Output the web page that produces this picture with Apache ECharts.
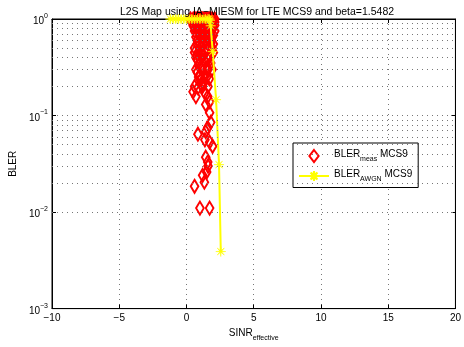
<!DOCTYPE html>
<html><head><meta charset="utf-8">
<script src="https://cdn.jsdelivr.net/npm/echarts@6/dist/echarts.min.js"></script>
<style>html,body{margin:0;padding:0;background:#fff}#c{width:464px;height:347px}</style>
</head><body><div id="c"></div>
<script>
var titleText = 'L2S Map using IA\u2212MIESM for LTE MCS9 and beta=1.5482';
var xTicks = [-10, -5, 0, 5, 10, 15, 20];
var yTicks = [0.001, 0.01, 0.1, 1];
var minorGrid = [0.002,0.003,0.004,0.005,0.006,0.007,0.008,0.009,
                 0.02,0.03,0.04,0.05,0.06,0.07,0.08,0.09,
                 0.2,0.3,0.4,0.5,0.6,0.7,0.8,0.9];
var sinrMeas = [0.7,0.9,1.1,1.3,1.5,1.7,1.9,2.0,0.8,1.2,1.6,1.0,1.4,1.8,2.1,0.7,1.2,1.5,1.9,0.9,1.7,1.3,2.0,1.0,1.6,0.8,1.4,1.8,1.1,0.6,1.9,1.5,0.9,1.2,1.7,0.7,1.0,1.4,1.8,0.9,1.2,1.6,0.8,1.0,1.4,1.1,1.7,1.3,
  1.07,0.85,0.49,1.36,0.7,1.58,1.72,1.43,1.72,1.8,1.58,1.43,0.85,1.37,1.72,1.94,1.43,1.58,1.6,1.5,1.2,1.33,0.6,1.0,1.72,
  0.3,0.5,0.6,0.8,1.0,1.2,1.4,1.6,1.8,2.1,0.4,0.6,1.9,2.1,0.5,1.0,1.3,1.7,0.6,1.1,1.4,2.1,0.7,1.2,1.5,1.9,0.8,1.0,1.6,2.0,0.6,1.1,1.4,2.0,0.8,1.3,1.6,0.7,1.1,1.5,1.9,0.9,1.5,0.6,1.2,1.6];
var blerMeas = [1,1,1,1,1,1,1,0.97,0.95,0.95,0.93,0.9,0.9,0.88,0.86,0.84,0.82,0.8,0.78,0.75,0.72,0.7,0.68,0.65,0.63,0.6,0.58,0.56,0.53,0.5,0.5,0.48,0.46,0.44,0.42,0.4,0.38,0.36,0.35,0.33,0.32,0.3,0.28,0.265,0.26,0.24,0.24,0.22,
  0.21,0.194,0.176,0.172,0.157,0.157,0.139,0.13,0.107,0.085,0.075,0.068,0.064,0.056,0.053,0.048,0.037,0.033,0.03,0.026,0.024,0.0204,0.0185,0.011,0.011,
  1,1,1,1,1,1,1,1,1,1,0.93,0.93,0.93,0.93,0.85,0.85,0.85,0.85,0.75,0.75,0.75,0.75,0.65,0.65,0.65,0.65,0.55,0.55,0.55,0.55,0.45,0.45,0.45,0.45,0.38,0.38,0.38,0.3,0.3,0.3,0.3,0.25,0.25,0.2,0.2,0.2];
var sinrAwgn = [-1.2,-1.0,-0.8,-0.6,-0.4,-0.2,0,0.2,0.4,0.6,0.8,1.0,1.2,1.4,1.6,1.7,1.75,1.8,1.95,2.2,2.42,2.55];
var blerAwgn = [1,1,1,1,1,1,1,1,1,1,1,1,1,1,1,1,0.97,0.85,0.46,0.146,0.031,0.0039];
var legendNames = ['BLER_meas MCS9', 'BLER_AWGN MCS9'];

function zip(a, b) { return a.map(function (v, i) { return [v, b[i]]; }); }
var FONT = 'Liberation Sans, Arial, Helvetica, sans-serif';
var star = 'path://M20 10 L11.85 10.77 L17.07 17.07 L10.77 11.85 L10 20 L9.23 11.85 L2.93 17.07 L8.15 10.77 L0 10 L8.15 9.23 L2.93 2.93 L9.23 8.15 L10 0 L10.77 8.15 L17.07 2.93 L11.85 9.23 Z';
var diamond = 'path://M5 0 L10 6.5 L5 13 L0 6.5 Z';
var dotted = { color: '#777', width: 1, type: [1, 4] };

var chart = echarts.init(document.getElementById('c'), null, { renderer: 'canvas' });
chart.setOption({
  animation: false,
  backgroundColor: '#fff',
  textStyle: { fontFamily: FONT },
  title: {
    text: titleText, left: 252, top: 2, textAlign: 'center',
    textStyle: { fontFamily: FONT, fontSize: 10.5, fontWeight: 'normal', color: '#000' }
  },
  grid: { left: 45, right: 6, top: 19, bottom: 37, show: true, borderColor: '#000', borderWidth: 1, backgroundColor: 'transparent' },
  legend: {
    left: 293, top: 143, orient: 'vertical',
    backgroundColor: '#fff', borderColor: '#000', borderWidth: 1,
    padding: [6, 6, 5, 5], itemGap: 6, itemWidth: 30, itemHeight: 12,
    data: legendNames,
    formatter: function (n) {
      var sub = n.indexOf('meas') >= 0 ? 'meas' : 'AWGN';
      return '{n|BLER}{s|' + sub + '}{n| MCS9}';
    },
    textStyle: {
      fontFamily: FONT, color: '#000',
      rich: {
        n: { fontSize: 10, fontFamily: FONT, color: '#000', padding: [0, 0, 4, 0] },
        s: { fontSize: 7, fontFamily: FONT, color: '#000', padding: [6, 0, 0, 0] }
      }
    }
  },
  xAxis: [{
    type: 'value', min: -10, max: 20, interval: 5,
    name: '{n|SINR}{s|effective}', nameLocation: 'middle', nameGap: 14,
    nameTextStyle: { rich: {
      n: { fontSize: 10, fontFamily: FONT, color: '#000', padding: [0, 0, 4, 0] },
      s: { fontSize: 7, fontFamily: FONT, color: '#000', padding: [6, 0, 0, 0] } } },
    axisLine: { show: true, onZero: false, lineStyle: { color: '#000' } },
    axisTick: { inside: true, length: 4, lineStyle: { color: '#000' } },
    axisLabel: { color: '#000', fontSize: 10, fontFamily: FONT, margin: 5,
      formatter: function (v) { return String(v).replace('-', '\u2212'); } },
    splitLine: { show: true, lineStyle: dotted }
  }, {
    type: 'value', min: -10, max: 20, interval: 5, position: 'top',
    axisLine: { show: true, onZero: false, lineStyle: { color: '#000' } },
    axisTick: { inside: true, length: 4, lineStyle: { color: '#000' } },
    axisLabel: { show: false }, splitLine: { show: false }
  }],
  yAxis: [{
    type: 'log', logBase: 10, min: yTicks[0], max: yTicks[yTicks.length - 1], position: 'left',
    name: 'BLER', nameLocation: 'middle', nameGap: 27, nameRotate: 90,
    nameTextStyle: { fontSize: 10, fontFamily: FONT, color: '#000' },
    axisLine: { show: true, onZero: false, lineStyle: { color: '#000' } },
    axisTick: { inside: true, length: 4, lineStyle: { color: '#000' } },
    axisLabel: { color: '#000', margin: 4,
      formatter: function (v) {
        var e = Math.round(Math.log10(v));
        return '{b|10}{e|' + String(e).replace('-', '\u2212') + '}';
      },
      rich: {
        b: { fontSize: 10, fontFamily: FONT, color: '#000', padding: [5, 0, 0, 0] },
        e: { fontSize: 7, fontFamily: FONT, color: '#000', padding: [0, 0, 6, 0] }
      } },
    splitLine: { show: true, lineStyle: dotted }
  }, {
    type: 'log', logBase: 10, min: yTicks[0], max: yTicks[yTicks.length - 1], position: 'right',
    axisLine: { show: true, onZero: false, lineStyle: { color: '#000' } },
    axisTick: { inside: true, length: 4, lineStyle: { color: '#000' } },
    axisLabel: { show: false }, splitLine: { show: false }
  }],
  series: [{
    name: 'grid-minor', type: 'line', data: [], silent: true,
    markLine: { silent: true, symbol: 'none', label: { show: false },
      lineStyle: dotted, data: minorGrid.map(function (v) { return { yAxis: v }; }) }
  }, {
    name: legendNames[0], type: 'scatter', clip: false,
    data: zip(sinrMeas, blerMeas),
    symbol: diamond, symbolSize: [10, 13], symbolKeepAspect: true,
    itemStyle: { color: 'rgba(255,0,0,0)', borderColor: '#ff0000', borderWidth: 2, opacity: 1 }
  }, {
    name: legendNames[1], type: 'line', clip: false,
    data: zip(sinrAwgn, blerAwgn),
    symbol: star, symbolSize: 10, showAllSymbol: true,
    lineStyle: { color: '#ffff00', width: 2 },
    itemStyle: { color: '#ffff00', borderColor: '#ffff00', borderWidth: 0.5 }
  }]
});
</script>
</body></html>
